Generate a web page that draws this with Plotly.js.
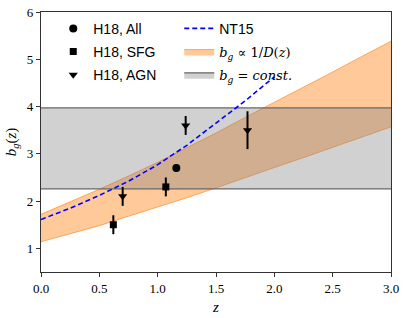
<!DOCTYPE html>
<html>
<head>
<meta charset="utf-8">
<script src="https://cdn.plot.ly/plotly-3.0.1.min.js"></script>
<style>html,body{margin:0;padding:0;background:#fff;}</style>
</head>
<body>
<div id="chart" style="width:407px;height:318px;"></div>
<script>
// Orange band b_g ∝ 1/D(z)
var bandZ     = [0, 0.25, 0.5, 0.75, 1.0, 1.25, 1.5, 1.75, 2.0, 2.25, 2.5, 2.75, 3.0];
var bandUpper = [1.72, 1.98, 2.25, 2.53, 2.82, 3.13, 3.44, 3.77, 4.09, 4.40, 4.73, 5.06, 5.38];
var bandLower = [1.14, 1.31, 1.48, 1.68, 1.87, 2.07, 2.28, 2.50, 2.71, 2.92, 3.14, 3.35, 3.57];
// Grey band b_g = const.
var constZ = [0, 3];
var constLower = 2.26;
var constUpper = 3.97;
// NT15 dashed curve
var ntZ = [0, 0.25, 0.5, 0.75, 1.0, 1.25, 1.5, 1.75, 2.0];
var ntB = [1.61, 1.85, 2.12, 2.42, 2.77, 3.18, 3.65, 4.12, 4.63];
// H18 measurements
var allZ = [1.16], allB = [2.70], allErr = [0.07];
var sfgZ = [0.62, 1.07], sfgB = [1.50, 2.30], sfgErr = [0.20, 0.20];
var agnZ = [0.70, 1.24, 1.77], agnB = [2.10, 3.60, 3.50], agnErr = [0.20, 0.20, 0.40];

var serif = "Liberation Serif, serif";
var sans = "Liberation Sans, Arial, sans-serif";
var mathStyle = 'font-family:DejaVu Serif, serif;font-size:13px';

var traces = [
  {x: bandZ, y: bandLower, mode: 'lines', line: {color: 'rgba(255,150,60,0.8)', width: 1},
   showlegend: false, hoverinfo: 'skip'},
  {x: bandZ, y: bandUpper, mode: 'lines', fill: 'tonexty', fillcolor: 'rgba(255,127,14,0.42)',
   line: {color: 'rgba(255,150,60,0.8)', width: 1},
   name: '<span style="' + mathStyle + '"><i>b</i><sub><i>g</i></sub> ∝ 1/<i>D</i>(<i>z</i>)</span>', legend: 'legend2', legendgroup: 'o', legendrank: 2},
  {x: constZ, y: [constLower, constLower], mode: 'lines', line: {color: '#666', width: 1.2},
   showlegend: false, hoverinfo: 'skip'},
  {x: constZ, y: [constUpper, constUpper], mode: 'lines', fill: 'tonexty', fillcolor: 'rgba(128,128,128,0.36)',
   line: {color: '#666', width: 1.2},
   name: '<span style="' + mathStyle + '"><i>b</i><sub><i>g</i></sub> = <i>const.</i></span>', legend: 'legend2', legendgroup: 'g', legendrank: 3},
  {x: ntZ, y: ntB, mode: 'lines', line: {color: '#0000ff', width: 1.6, dash: '5px,3px'},
   name: '<span style="font-family:Liberation Sans, Arial, sans-serif">NT15</span>', legend: 'legend2', legendgroup: 'n', legendrank: 1},
  {x: allZ, y: allB, mode: 'markers', marker: {symbol: 'circle', size: 8, color: 'black'},
   error_y: {type: 'data', array: allErr, color: 'black', thickness: 2, width: 0},
   name: 'H18, All', legend: 'legend', legendgroup: 'a', legendrank: 1},
  {x: sfgZ, y: sfgB, mode: 'markers', marker: {symbol: 'square', size: 7, color: 'black'},
   error_y: {type: 'data', array: sfgErr, color: 'black', thickness: 2, width: 0},
   name: 'H18, SFG', legend: 'legend', legendgroup: 's', legendrank: 2},
  {x: agnZ, y: agnB, mode: 'markers', marker: {symbol: 'triangle-down', size: 8, color: 'black'},
   error_y: {type: 'data', array: agnErr, color: 'black', thickness: 2, width: 0},
   name: 'H18, AGN', legend: 'legend', legendgroup: 'q', legendrank: 3}
];

var layout = {
  width: 407, height: 318,
  margin: {l: 41, r: 16, t: 12, b: 46},
  paper_bgcolor: '#fff', plot_bgcolor: '#fff',
  font: {family: serif, color: '#000'},
  showlegend: true,
  xaxis: {
    range: [0, 3], tickvals: [0, 0.5, 1, 1.5, 2, 2.5, 3],
    ticktext: ['0.0', '0.5', '1.0', '1.5', '2.0', '2.5', '3.0'],
    ticks: 'outside', ticklen: 4, tickcolor: '#333', tickwidth: 1,
    showgrid: false, zeroline: false, showline: true, mirror: true, linecolor: '#333', linewidth: 1.2,
    tickfont: {family: serif, size: 13, color: '#000'},
    title: {text: '<i>z</i>', font: {family: serif, size: 15, color: '#000'}, standoff: 6}
  },
  yaxis: {
    range: [0.5, 6], tickvals: [1, 2, 3, 4, 5, 6],
    ticks: 'outside', ticklen: 4, tickcolor: '#333', tickwidth: 1,
    showgrid: false, zeroline: false, showline: true, mirror: true, linecolor: '#333', linewidth: 1.2,
    tickfont: {family: serif, size: 13, color: '#000'},
    title: {text: '<i>b</i><sub><i>g</i></sub>(<i>z</i>)', font: {family: serif, size: 15, color: '#000'}, standoff: 6}
  },
  legend: {
    x: 0.035, y: 0.997, xanchor: 'left', yanchor: 'top',
    bgcolor: 'rgba(0,0,0,0)', borderwidth: 0,
    font: {family: sans, size: 14, color: '#000'},
    tracegroupgap: 2, traceorder: 'grouped'
  },
  legend2: {
    x: 0.395, y: 0.997, xanchor: 'left', yanchor: 'top',
    bgcolor: 'rgba(0,0,0,0)', borderwidth: 0,
    font: {family: serif, size: 14, color: '#000'},
    tracegroupgap: 2, traceorder: 'grouped'
  }
};

Plotly.newPlot('chart', traces, layout, {displayModeBar: false, staticPlot: true});
</script>
</body>
</html>
